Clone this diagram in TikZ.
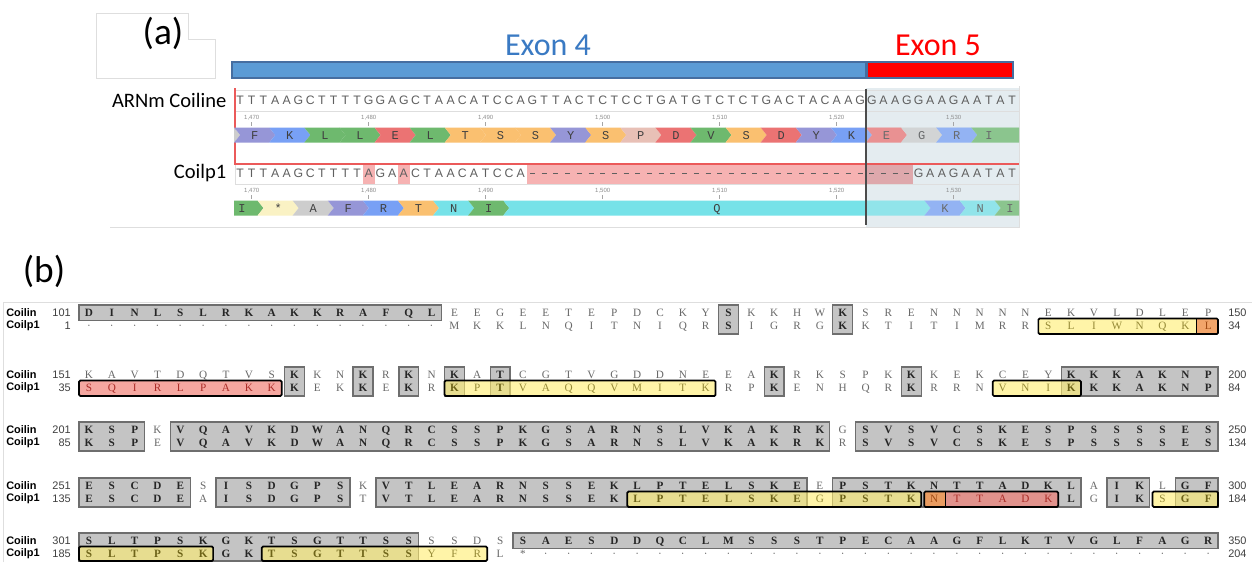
\documentclass[tikz,border=0pt]{standalone}
\usepackage{fontspec}
\setmainfont{Carlito}
\newfontfamily\serf{Liberation Serif}
\newfontfamily\sanf{Liberation Sans}
\newfontfamily\monf{Liberation Mono}
\definecolor{tblue}{RGB}{58,122,195}
\definecolor{exblue}{RGB}{91,155,213}
\definecolor{exbord}{RGB}{70,110,160}
\definecolor{e5bg}{RGB}{228,236,240}
\definecolor{faint}{RGB}{222,222,222}
\definecolor{ntgray}{RGB}{95,95,95}
\definecolor{cpu}{RGB}{150,150,215}
\definecolor{cbl}{RGB}{120,160,245}
\definecolor{cgr}{RGB}{110,185,110}
\definecolor{cre}{RGB}{235,115,115}
\definecolor{cor}{RGB}{250,192,112}
\definecolor{cpk}{RGB}{232,192,182}
\definecolor{cgy}{RGB}{205,205,205}
\definecolor{ccy}{RGB}{118,226,232}
\definecolor{cye}{RGB}{250,242,196}
\definecolor{pinkbg}{RGB}{246,178,178}
\definecolor{pinkdk}{RGB}{222,168,172}
\definecolor{redln}{RGB}{235,90,90}
\definecolor{gfill}{RGB}{196,196,196}
\definecolor{gline}{RGB}{110,110,110}
\definecolor{yfill}{RGB}{255,238,110}
\definecolor{ofill}{RGB}{240,150,80}
\definecolor{rfill}{RGB}{240,120,110}
\definecolor{lgray}{RGB}{105,105,105}
\definecolor{olive}{RGB}{110,100,25}
\definecolor{yolive}{RGB}{150,138,55}
\definecolor{brn}{RGB}{160,75,20}
\definecolor{rbrn}{RGB}{170,45,40}
\tikzset{
 ntf/.style={inner sep=0, text height=6.5pt, text depth=0pt, text=ntgray, font=\sanf\fontsize{9.2}{10}\selectfont},
 aaf/.style={inner sep=0, text height=6pt, text depth=0pt, text=black!75, font=\monf\fontsize{9}{9}\selectfont},
 rul/.style={inner sep=0, text=black!45, font=\sanf\fontsize{4.5}{5}\selectfont},
 lt/.style={inner sep=0, text height=5.6pt, text depth=0pt, font=\serf\fontsize{8.4}{9}\selectfont},
 pl/.style={lt, text=lgray},
 gb/.style={lt, text=black!85, font=\serf\bfseries\fontsize{8.4}{9}\selectfont},
 yb/.style={lt, text=olive, font=\serf\bfseries\fontsize{8.4}{9}\selectfont},
 yl/.style={lt, text=yolive},
 ob/.style={lt, text=brn},
 rd/.style={lt, text=rbrn},
 gbox/.style={fill=gfill, draw=gline, line width=1pt},
 kbox/.style={draw=black, line width=1.3pt, rounded corners=1pt},
 yel/.style={fill=yfill, fill opacity=0.6},
 ora/.style={fill=ofill, fill opacity=0.85},
 rdf/.style={fill=rfill, fill opacity=0.65},
 lab/.style={inner sep=0, font=\sanf\bfseries\fontsize{8.2}{9}\selectfont},
 num/.style={inner sep=0, text=black!75, font=\sanf\fontsize{8.2}{9}\selectfont},
}
\newcommand\bseg[4]{\foreach \c [count=\i from #2] in {#4} {\node[#3] (L#1x\i) at ({89+(\i-1)*22.84},#1) {\c};}}
\newcommand\gbx[4]{\draw[gbox] ({89+(#1-1.5)*22.84+1.5},#3) rectangle ({89+(#2-0.5)*22.84-1.5},#4);}
\newcommand\cfill[7]{\fill[#5] ({89+(#1-1.5)*22.84+#6},#3) rectangle ({89+(#2-0.5)*22.84-#7},#4);}
\newcommand\kbx[4]{\draw[kbox] ({89+(#1-1.5)*22.84+1.5},#3) rectangle ({89+(#2-0.5)*22.84-1.5},#4);}
\newcommand\kdiv[3]{\draw[black, line width=1pt] ({89+(#1-0.5)*22.84},#2) -- ({89+(#1-0.5)*22.84},#3);}
\newcommand\ntrow[3]{\foreach \c [count=\i from #2] in {#3} {\node[ntf] (N#1x\i) at ({240+(\i-1)*11.7},#1) {\c};}}
\newcommand\chv[6]{\fill[#4] (#1,#3-7.5) -- (#2,#3-7.5) -- (#2+6,#3) -- (#2,#3+7.5) -- (#1,#3+7.5) -- (#1+6,#3) -- cycle;
 \node[aaf] (#6) at ({(#1+#2)/2+3},#3) {#5};}
\begin{document}
\begin{tikzpicture}[x=0.75pt,y=-0.75pt]
\useasboundingbox (0,0) rectangle (1252,562);
\fill[white] (0,0) rectangle (1252,562);
% ---------------- panel (a)
\draw[faint] (96,78) -- (96,13) -- (188,13) -- (188,39) -- (215,39) -- (215,78) -- cycle;
\node[font=\fontsize{28}{32}\selectfont] (la) at (163,33) {(a)};
\node[text=tblue, font=\fontsize{24}{28}\selectfont] (ex4) at (548,45) {Exon 4};
\node[text=red, font=\fontsize{24}{28}\selectfont] (ex5) at (938,45) {Exon 5};
\draw[fill=exblue, draw=exbord, line width=0.8pt] (232,62) rectangle (866,78);
\draw[fill=red, draw=exbord, line width=0.8pt] (867,62) rectangle (1013,78);
% frame
\draw[faint] (110,227) -- (1019,227) -- (1019,86);
\fill[e5bg] (866,88) rectangle (1019,227);
\draw[faint] (235,90) rectangle (1019,111);
\draw[faint] (235,164) rectangle (1019,184);
\node[anchor=east, font=\fontsize{15.4}{18}\selectfont] (arn) at (231,100) {ARNm Coiline};
\node[anchor=east, font=\fontsize{15.4}{18}\selectfont] (coi) at (231,173) {Coilp1};
% Coilp1 highlights
\fill[pinkbg] (526.65,164.5) rectangle (912.75,183.5);
\fill[pinkdk] (866,164.5) rectangle (912.75,183.5);
\fill[pinkbg] (362.85,164.5) rectangle (374.55,183.5);
\fill[pinkbg] (397.95,164.5) rectangle (409.65,183.5);
\draw[redln, line width=0.8pt] (235,88) -- (235,164) -- (1019,164);
% sequences
\ntrow{100}{1}{T,T,T,A,A,G,C,T,T,T,T,G,G,A,G,C,T,A,A,C,A,T,C,C,A,G,T,T,A,C,T,C,T,C,C,T,G,A,T,G,T,C,T,C,T,G,A,C,T,A,C,A,A,G,G,A,A,G,G,A,A,G,A,A,T,A,T}
\ntrow{173}{1}{T,T,T,A,A,G,C,T,T,T,T,A,G,A,A,C,T,A,A,C,A,T,C,C,A}
\ntrow{173}{59}{G,A,A,G,A,A,T,A,T}
\foreach \i in {26,...,58} {\draw[ntgray, line width=0.7pt] ({240+(\i-1)*11.7-2.5},173) -- ({240+(\i-1)*11.7+2.5},173);}
% rulers
\foreach \lab [count=\k] in {{1,470},{1,480},{1,490},{1,500},{1,510},{1,520},{1,530}} {
 \node[rul] (ra\k) at ({251.7+(\k-1)*117},118) {\lab};
 \draw[black!35, line width=0.4pt] ({251.7+(\k-1)*117},122) -- ({251.7+(\k-1)*117},126);
 \node[rul] (rb\k) at ({251.7+(\k-1)*117},191) {\lab};
 \draw[black!35, line width=0.4pt] ({251.7+(\k-1)*117},195) -- ({251.7+(\k-1)*117},199);
}
% amino acid row 1
\fill[cgy] (234.15,127.5) -- (240.15,135) -- (234.15,142.5) -- cycle;
\foreach \a/\col [count=\k] in {F/cpu,K/cbl,L/cgr,L/cgr,E/cre,L/cgr,T/cor,S/cor,S/cor,Y/cpu,S/cor,P/cpk,D/cre,V/cgr,S/cor,D/cre,Y/cpu,K/cbl,E/cre,G/cgy,R/cbl} {
 \pgfmathsetmacro\xa{234.15+(\k-1)*35.1}
 \pgfmathsetmacro\xb{\xa+35.1}
 \chv{\xa}{\xb}{135}{\col}{\a}{A1x\k}
}
\fill[cgr] (971.25,127.5) -- (1019,127.5) -- (1019,142.5) -- (971.25,142.5) -- (977.25,135) -- cycle;
\node[aaf] (A1x22) at (989,135) {I};
% amino acid row 2
\fill[cgr] (234.15,200.5) -- (257.55,200.5) -- (263.55,208) -- (257.55,215.5) -- (234.15,215.5) -- cycle;
\node[aaf] (A2x1) at (242,208) {I};
\foreach \a/\col [count=\k] in {*/cye,A/cgy,F/cpu,R/cbl,T/cor,N/ccy,I/cgr} {
 \pgfmathsetmacro\xa{257.55+(\k-1)*35.1}
 \pgfmathsetmacro\xb{\xa+35.1}
 \chv{\xa}{\xb}{208}{\col}{\a}{A2y\k}
}
\chv{503.25}{924.45}{208}{ccy}{Q}{A2q}
\chv{924.45}{959.55}{208}{cbl}{K}{A2k}
\chv{959.55}{994.65}{208}{ccy}{N}{A2n}
\fill[cgr] (994.65,200.5) -- (1019,200.5) -- (1019,215.5) -- (994.65,215.5) -- (1000.65,208) -- cycle;
\node[aaf] (A2i) at (1010,208) {I};
\fill[e5bg, opacity=0.25] (866,127.5) rectangle (1019,142.5);
\fill[e5bg, opacity=0.25] (866,200.5) rectangle (1019,215.5);
\draw[black!70, line width=1.1pt] (866,89) -- (866,225);
% ---------------- panel (b)
\draw[faint] (3,562) -- (3,302) -- (1252,302);
\node[font=\fontsize{28}{32}\selectfont] (lb) at (44,271) {(b)};
\foreach \ya/\na/\nb/\ra/\rb [count=\k] in {313/101/1/150/34,375/151/35/200/84,430/201/85/250/134,486/251/135/300/184,541/301/185/350/204} {
 \pgfmathtruncatemacro\yb{\ya+13}
 \node[lab, anchor=west] (ca\k) at (6,\ya) {Coilin};
 \node[lab, anchor=west] (cb\k) at (6,\yb) {Coilp1};
 \node[num, anchor=east] (na\k) at (71,\ya) {\na};
 \node[num, anchor=east] (nb\k) at (71,\yb) {\nb};
 \node[num, anchor=west] (ea\k) at (1228,\ya) {\ra};
 \node[num, anchor=west] (eb\k) at (1228,\yb) {\rb};
}
% row 1 boxes
\gbx{1}{16}{305}{320.5}
\gbx{29}{29}{305}{334}
\gbx{34}{34}{305}{334}
\cfill{43}{49}{318.5}{334}{yel}{1.5}{0}
\cfill{50}{50}{318.5}{334}{ora}{0}{1.5}
\kbx{43}{50}{318.5}{334}
\kdiv{49}{318.5}{334}
% row 2 boxes
\foreach \cc in {10,13,15,17,19,31,37} {\gbx{\cc}{\cc}{367}{396}}
\gbx{44}{50}{367}{396}
\cfill{1}{9}{380.5}{396}{rdf}{1.5}{1.5}
\kbx{1}{9}{380.5}{396}
\cfill{17}{28}{380.5}{396}{yel}{1.5}{1.5}
\kbx{17}{28}{380.5}{396}
\cfill{41}{44}{380.5}{396}{yel}{1.5}{1.5}
\kbx{41}{44}{380.5}{396}
% row 3 boxes
\gbx{1}{3}{422}{451}
\gbx{5}{33}{422}{451}
\gbx{35}{50}{422}{451}
% row 4 boxes
\gbx{1}{5}{478}{507}
\gbx{7}{12}{478}{507}
\gbx{14}{32}{478}{507}
\gbx{34}{44}{478}{507}
\gbx{46}{47}{478}{507}
\gbx{49}{50}{478}{507}
\cfill{25}{37}{491.5}{507}{yel}{1.5}{1.5}
\kbx{25}{37}{491.5}{507}
\cfill{38}{38}{491.5}{507}{ora}{1.5}{0}
\cfill{39}{43}{491.5}{507}{rdf}{0}{1.5}
\kbx{38}{43}{491.5}{507}
\kdiv{38}{491.5}{507}
\cfill{48}{50}{491.5}{507}{yel}{1.5}{1.5}
\kbx{48}{50}{491.5}{507}
% row 5 boxes
\gbx{1}{15}{533}{561}
\gbx{20}{50}{533}{548.5}
\cfill{1}{6}{546.5}{561}{yel}{1.5}{1.5}
\kbx{1}{6}{546.5}{561}
\cfill{9}{18}{546.5}{561}{yel}{1.5}{1.5}
\kbx{9}{18}{546.5}{561}
% row 1 letters
\bseg{313}{1}{gb}{D,I,N,L,S,L,R,K,A,K,K,R,A,F,Q,L}
\bseg{313}{17}{pl}{E,E,G,E,E,T,E,P,D,C,K,Y}
\bseg{313}{29}{gb}{S}
\bseg{313}{30}{pl}{K,K,H,W}
\bseg{313}{34}{gb}{K}
\bseg{313}{35}{pl}{S,R,E,N,N,N,N,N,E,K,V,L,D,L,E,P}
\bseg{326}{1}{pl}{·,·,·,·,·,·,·,·,·,·,·,·,·,·,·,·}
\bseg{326}{17}{pl}{M,K,K,L,N,Q,I,T,N,I,Q,R}
\bseg{326}{29}{gb}{S}
\bseg{326}{30}{pl}{I,G,R,G}
\bseg{326}{34}{gb}{K}
\bseg{326}{35}{pl}{K,T,I,T,I,M,R,R}
\bseg{326}{43}{yl}{S,L,I,W,N,Q,K}
\bseg{326}{50}{ob}{L}
% row 2 letters
\bseg{375}{1}{pl}{K,A,V,T,D,Q,T,V,S}
\bseg{375}{10}{gb}{K}
\bseg{375}{11}{pl}{K,N}
\bseg{375}{13}{gb}{K}
\bseg{375}{14}{pl}{R}
\bseg{375}{15}{gb}{K}
\bseg{375}{16}{pl}{N}
\bseg{375}{17}{gb}{K}
\bseg{375}{18}{pl}{A}
\bseg{375}{19}{gb}{T}
\bseg{375}{20}{pl}{C,G,T,V,G,D,D,N,E,E,A}
\bseg{375}{31}{gb}{K}
\bseg{375}{32}{pl}{R,K,S,P,K}
\bseg{375}{37}{gb}{K}
\bseg{375}{38}{pl}{K,E,K,C,E,Y}
\bseg{375}{44}{gb}{K,K,K,A,K,N,P}
\bseg{388}{1}{rd}{S,Q,I,R,L,P,A,K,K}
\bseg{388}{10}{gb}{K}
\bseg{388}{11}{pl}{E,K}
\bseg{388}{13}{gb}{K}
\bseg{388}{14}{pl}{E}
\bseg{388}{15}{gb}{K}
\bseg{388}{16}{pl}{R}
\bseg{388}{17}{yb}{K}
\bseg{388}{18}{yl}{P}
\bseg{388}{19}{yb}{T}
\bseg{388}{20}{yl}{V,A,Q,Q,V,M,I,T,K}
\bseg{388}{29}{pl}{R,P}
\bseg{388}{31}{gb}{K}
\bseg{388}{32}{pl}{E,N,H,Q,R}
\bseg{388}{37}{gb}{K}
\bseg{388}{38}{pl}{R,R,N}
\bseg{388}{41}{yl}{V,N,I}
\bseg{388}{44}{yb}{K}
\bseg{388}{45}{gb}{K,K,A,K,N,P}
% row 3 letters
\bseg{430}{1}{gb}{K,S,P}
\bseg{430}{4}{pl}{K}
\bseg{430}{5}{gb}{V,Q,A,V,K,D,W,A,N,Q,R,C,S,S,P,K,G,S,A,R,N,S,L,V,K,A,K,R,K}
\bseg{430}{34}{pl}{G}
\bseg{430}{35}{gb}{S,V,S,V,C,S,K,E,S,P,S,S,S,S,E,S}
\bseg{443}{1}{gb}{K,S,P}
\bseg{443}{4}{pl}{E}
\bseg{443}{5}{gb}{V,Q,A,V,K,D,W,A,N,Q,R,C,S,S,P,K,G,S,A,R,N,S,L,V,K,A,K,R,K}
\bseg{443}{34}{pl}{R}
\bseg{443}{35}{gb}{S,V,S,V,C,S,K,E,S,P,S,S,S,S,E,S}
% row 4 letters
\bseg{486}{1}{gb}{E,S,C,D,E}
\bseg{486}{6}{pl}{S}
\bseg{486}{7}{gb}{I,S,D,G,P,S}
\bseg{486}{13}{pl}{K}
\bseg{486}{14}{gb}{V,T,L,E,A,R,N,S,S,E,K,L,P,T,E,L,S,K,E}
\bseg{486}{33}{pl}{E}
\bseg{486}{34}{gb}{P,S,T,K,N,T,T,A,D,K,L}
\bseg{486}{45}{pl}{A}
\bseg{486}{46}{gb}{I,K}
\bseg{486}{48}{pl}{L}
\bseg{486}{49}{gb}{G,F}
\bseg{499}{1}{gb}{E,S,C,D,E}
\bseg{499}{6}{pl}{A}
\bseg{499}{7}{gb}{I,S,D,G,P,S}
\bseg{499}{13}{pl}{T}
\bseg{499}{14}{gb}{V,T,L,E,A,R,N,S,S,E,K}
\bseg{499}{25}{yb}{L,P,T,E,L,S,K,E}
\bseg{499}{33}{yl}{G}
\bseg{499}{34}{yb}{P,S,T,K}
\bseg{499}{38}{ob}{N}
\bseg{499}{39}{rd}{T,T,A,D,K}
\bseg{499}{44}{gb}{L}
\bseg{499}{45}{pl}{G}
\bseg{499}{46}{gb}{I,K}
\bseg{499}{48}{yl}{S}
\bseg{499}{49}{yb}{G,F}
% row 5 letters
\bseg{541}{1}{gb}{S,L,T,P,S,K,G,K,T,S,G,T,T,S,S}
\bseg{541}{16}{pl}{S,S,D,S}
\bseg{541}{20}{gb}{S,A,E,S,D,D,Q,C,L,M,S,S,S,T,P,E,C,A,A,G,F,L,K,T,V,G,L,F,A,G,R}
\bseg{554}{1}{yb}{S,L,T,P,S,K}
\bseg{554}{7}{gb}{G,K}
\bseg{554}{9}{yb}{T,S,G,T,T,S,S}
\bseg{554}{16}{yl}{Y,F,R}
\bseg{554}{19}{pl}{L,*}
\bseg{554}{21}{pl}{·,·,·,·,·,·,·,·,·,·,·,·,·,·,·,·,·,·,·,·,·,·,·,·,·,·,·,·,·,·}
\end{tikzpicture}
\end{document}
